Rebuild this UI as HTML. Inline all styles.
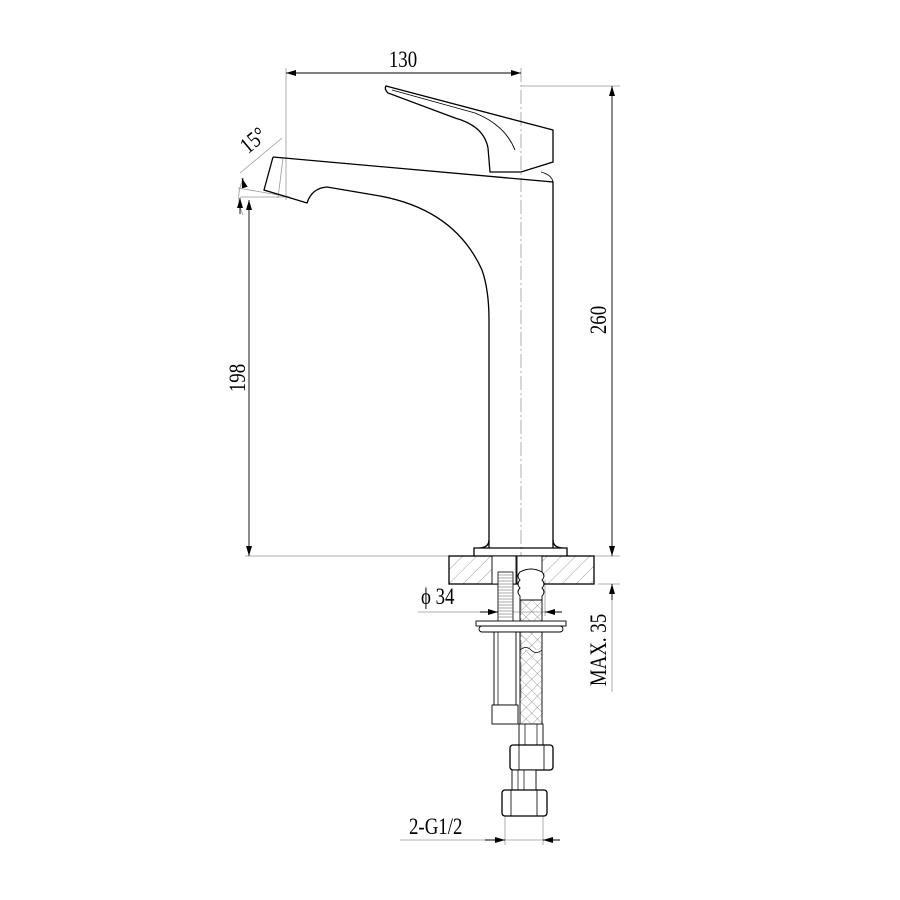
<!DOCTYPE html>
<html><head><meta charset="utf-8"><style>
html,body{margin:0;padding:0;background:#fff}
svg{display:block}
text{font-family:"Liberation Serif",serif;fill:#000}
</style></head><body>
<svg width="900" height="900" viewBox="0 0 900 900" xmlns="http://www.w3.org/2000/svg">
<defs>
<pattern id="h" width="10" height="10" patternUnits="userSpaceOnUse" patternTransform="rotate(45)">
<line x1="0" y1="0" x2="0" y2="10" stroke="#888" stroke-width="0.8"/></pattern>
<pattern id="x" width="8" height="8" patternUnits="userSpaceOnUse" patternTransform="rotate(45)">
<line x1="0" y1="0" x2="0" y2="8" stroke="#777" stroke-width="0.7"/><line x1="0" y1="0" x2="8" y2="0" stroke="#777" stroke-width="0.7"/></pattern>
<marker id="a" viewBox="0 0 10 6" refX="10" refY="3" markerWidth="10" markerHeight="6" orient="auto-start-reverse" markerUnits="userSpaceOnUse"><path d="M0,0 L10,3 L0,6z" fill="#000"/></marker>
</defs>
<g fill="none" stroke="#999" stroke-width="0.8">
<line x1="286" y1="68" x2="286" y2="200"/>
<line x1="521" y1="86" x2="620" y2="86"/>
<line x1="245" y1="556" x2="620" y2="556"/>
<line x1="598" y1="584" x2="620" y2="584"/>
<line x1="612" y1="584" x2="612" y2="692"/>
<line x1="240" y1="197" x2="290" y2="197"/>
<line x1="418" y1="612" x2="552" y2="612"/>
<line x1="498" y1="556" x2="498" y2="616"/>
<line x1="545" y1="580" x2="545" y2="616"/>
<line x1="505" y1="815" x2="505" y2="845"/>
<line x1="543" y1="815" x2="543" y2="845"/>
<line x1="400" y1="840" x2="545" y2="840"/>
<line x1="238" y1="188" x2="290" y2="197"/>
<line x1="283" y1="158" x2="278" y2="198"/>
<line x1="240" y1="173" x2="282" y2="138"/>
<path d="M243,215 Q234,195 244,178"/>
<line x1="521" y1="68" x2="521" y2="700" stroke-dasharray="14,3,2,3"/>
</g>
<g fill="none" stroke="#000" stroke-width="0.9">
<line x1="286" y1="73" x2="521" y2="73" marker-start="url(#a)" marker-end="url(#a)"/>
<line x1="249" y1="200" x2="249" y2="556" marker-start="url(#a)" marker-end="url(#a)"/>
<line x1="612" y1="86" x2="612" y2="556" marker-start="url(#a)" marker-end="url(#a)"/>
<line x1="612" y1="600" x2="612" y2="584" marker-end="url(#a)"/>
<line x1="480" y1="612" x2="498" y2="612" marker-end="url(#a)"/>
<line x1="562" y1="612" x2="545" y2="612" marker-end="url(#a)"/>
<line x1="485" y1="840" x2="505" y2="840" marker-end="url(#a)"/>
<line x1="560" y1="840" x2="543" y2="840" marker-end="url(#a)"/>
<line x1="240" y1="214" x2="240" y2="198" marker-end="url(#a)"/>
<line x1="244" y1="185" x2="242" y2="178" marker-end="url(#a)"/>
</g>
<g fill="none" stroke="#000" stroke-width="1.3">
<path d="M386,86 L553,130 L553,162 L521,172 L490,172 L488,148 Q484,126 455,118 L388,93 Q384,89 386,86 Z"/>
<path d="M392,90 L475,113 Q505,125 515,150" stroke-width="0.9"/>
<path d="M541,172 Q552,175 553,182" stroke-width="0.9"/>
<path d="M273,157 L553,182 L553,548"/>
<path d="M273,157 L264,190 L307,203 Q312,188 327,187 L380,196 Q455,210 482,270 Q489,290 489,320 L489,548"/>
<path d="M489,540 Q489,548 478,548 L474,548 L474,556 M553,540 Q553,548 564,548 L567,548 L567,556 M474,548 L567,548"/>
<rect x="449" y="556" width="145" height="28" fill="url(#h)"/>
<rect x="492" y="556" width="24" height="28" fill="#fff" stroke-width="0.9"/>
<rect x="517" y="556" width="25" height="28" fill="#fff" stroke-width="0.9"/>
<rect x="498" y="572" width="15" height="50" fill="#fff" stroke-width="0.8"/>
<g stroke-width="0.5" stroke="#555">
<path d="M498,575h15M498,578h15M498,581h15M498,584h15M498,587h15M498,590h15M498,593h15M498,596h15M498,599h15M498,602h15M498,605h15M498,608h15M498,611h15M498,614h15M498,617h15"/>
</g>
<rect x="520" y="600" width="22" height="125" fill="url(#x)" stroke-width="0.9"/>
<path d="M520,572 Q516,576 520,580 Q516,584 520,588 Q516,592 520,596 L520,600 L542,600 L542,596 Q546,592 542,588 Q546,584 542,580 Q546,576 542,572 Q531,566 520,572 Z" fill="#fff" stroke-width="0.9"/>
<rect x="476" y="621" width="90" height="5" fill="#fff" stroke-width="0.9"/>
<rect x="479" y="626" width="84" height="6" rx="3" fill="#fff" stroke-width="0.9"/>
<rect x="494" y="632" width="22" height="73" fill="#fff" stroke-width="0.9"/>
<line x1="498" y1="632" x2="498" y2="705" stroke-width="0.7"/>
<rect x="492" y="705" width="26" height="19" fill="#fff" stroke-width="0.9"/>
<path d="M520,650 Q526,645 531,650 Q536,655 542,650" fill="#fff" stroke-width="0.8"/>
<rect x="519" y="724" width="24" height="22" fill="#fff" stroke-width="0.9"/>
<path d="M525,724v22M537,724v22" stroke-width="0.7"/>
<rect x="510" y="745" width="43" height="25" rx="3" fill="#fff"/>
<path d="M519,745v25M544,745v25" stroke-width="0.8"/>
<rect x="512" y="770" width="24" height="20" fill="#fff" stroke-width="0.9"/>
<path d="M518,770v20M524,770v20" stroke-width="0.7"/>
<rect x="502" y="790" width="45" height="26" rx="3" fill="#fff"/>
<path d="M511,790v26M537,790v26" stroke-width="0.8"/>
</g>
<text font-size="23" text-anchor="middle" transform="translate(403,67) scale(0.82,1)">130</text>
<text font-size="23" text-anchor="middle" transform="translate(258,146) rotate(-40) scale(0.82,1)">15°</text>
<text font-size="23" text-anchor="middle" transform="translate(245,378) rotate(-90) scale(0.82,1)">198</text>
<text font-size="23" text-anchor="middle" transform="translate(606,320) rotate(-90) scale(0.82,1)">260</text>
<text font-size="23" text-anchor="middle" transform="translate(606,650) rotate(-90) scale(0.82,1)">MAX. 35</text>
<text font-size="23" transform="translate(421,604) scale(0.82,1)">ϕ 34</text>
<text font-size="23" transform="translate(409,834) scale(0.82,1)">2-G1/2</text>
</svg>
</body></html>
